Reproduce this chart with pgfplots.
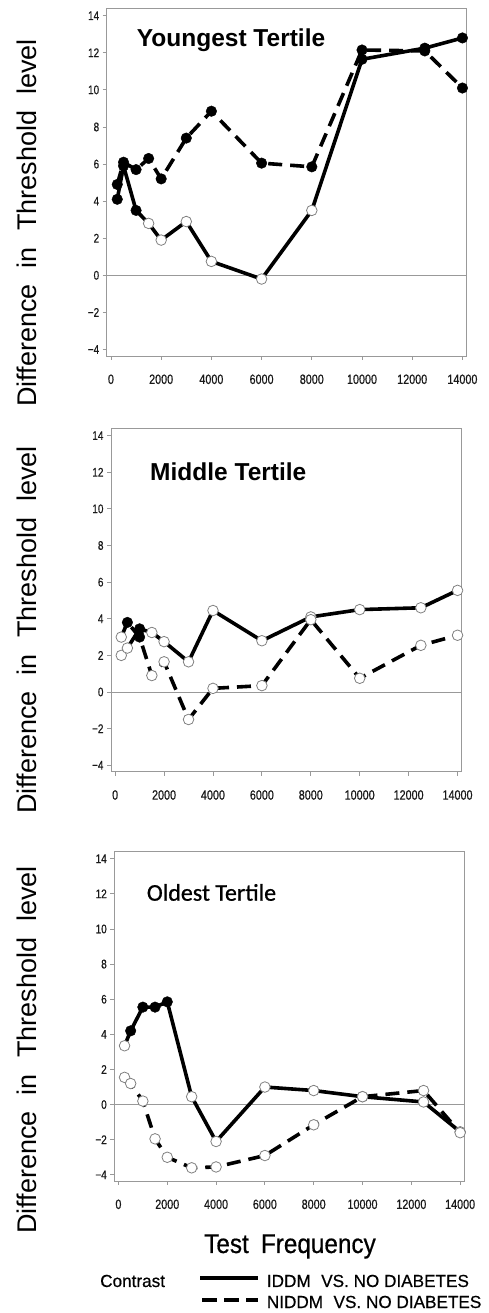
\documentclass[border=0pt]{standalone}
\usepackage{fontspec}
\setmainfont{Liberation Sans}
\newfontfamily\tickfont[FakeStretch=0.8,FakeBold=0.6]{Liberation Sans}
\newfontfamily\oldfont[FakeBold=0.8]{Carlito}
\newfontfamily\labfont[FakeStretch=0.9,FakeBold=0.5]{Liberation Sans}
\newfontfamily\legfont[FakeStretch=0.98,FakeBold=0.5]{Liberation Sans}
\usepackage{pgfplots}
\usepackage{pgfplotstable}
\pgfplotsset{compat=1.18}

% Youngest tertile
\pgfplotstableread{
x y c
250 4.1 f
500 5.9 f
1000 3.5 f
1500 2.8 o
2000 1.9 o
3000 2.9 o
4000 0.75 o
6000 -0.2 o
8000 3.5 o
10000 11.65 f
12500 12.25 f
14000 12.8 f
}\youngS
\pgfplotstableread{
x y c
250 4.9 f
500 6.1 f
1000 5.7 f
1500 6.3 f
2000 5.2 f
3000 7.4 f
4000 8.85 f
6000 6.05 f
8000 5.85 f
10000 12.15 f
12500 12.1 f
14000 10.1 f
}\youngD
% Middle tertile
\pgfplotstableread{
x y c
250 2.0 o
500 2.4 o
1000 3.45 f
1500 3.25 o
2000 2.75 o
3000 1.65 o
4000 4.45 o
6000 2.8 o
8000 4.1 o
10000 4.5 o
12500 4.6 o
14000 5.55 o
}\midS
\pgfplotstableread{
x y c
250 3.0 o
500 3.8 f
1000 3.0 f
1500 0.9 o
2000 1.65 o
3000 -1.5 o
4000 0.2 o
6000 0.35 o
8000 3.95 o
10000 0.75 o
12500 2.55 o
14000 3.1 o
}\midD
% Oldest tertile
\pgfplotstableread{
x y c
250 3.35 o
500 4.2 f
1000 5.55 f
1500 5.55 f
2000 5.85 f
3000 0.45 o
4000 -2.1 o
6000 1.0 o
8000 0.8 o
10000 0.45 o
12500 0.15 o
14000 -1.55 o
}\oldS
\pgfplotstableread{
x y c
250 1.55 o
500 1.2 o
1000 0.2 o
1500 -1.95 o
2000 -3.0 o
3000 -3.6 o
4000 -3.55 o
6000 -2.9 o
8000 -1.15 o
10000 0.45 o
12500 0.8 o
14000 -1.6 o
}\oldD

\pgfplotsset{
  panel/.style={
    scale only axis,
    anchor=north west,
    clip=false,
    xmin=-170, xmax=14170, ymin=-4.35, ymax=14.4,
    scaled x ticks=false,
    xtick={0,2000,...,14000},
    xticklabels={0,2000,4000,6000,8000,10000,12000,14000},
    ytick={-4,-2,...,14},
    yticklabels={−4,−2,0,2,4,6,8,10,12,14},
    xtick pos=bottom, ytick pos=left,
    tick align=outside,
    major tick length=4pt,
    axis line style={draw=gray!80, line width=0.8pt},
    every tick/.style={draw=gray!80, line width=0.8pt},
    x tick label style={font=\tickfont\fontsize{13.5}{13.5}\selectfont, text=black!90, yshift=-11pt},
    y tick label style={font=\tickfont\fontsize{12.5}{12.5}\selectfont, text=black!90},
  },
  linesolid/.style={black, line width=3.6pt, no marks, line join=round},
  linedash/.style={black, line width=3.6pt, no marks, dash pattern=on 14pt off 8pt},
  markset/.style={only marks, scatter, scatter src=explicit symbolic,
    scatter/classes={
      f={mark=*, mark size=5.3pt, draw=black, fill=black},
      o={mark=*, mark size=5.3pt, draw=gray, fill=white, line width=0.8pt}}},
}

\begin{document}
\begin{tikzpicture}[x=1pt,y=1pt]
\useasboundingbox (0,0) rectangle (489,1313);

% ---------- Youngest ----------
\begin{axis}[panel, at={(106.7pt,1304.7pt)}, width=360pt, height=347.7pt]
\draw[gray!80, line width=0.8pt] (axis cs:-170,0) -- (axis cs:14170,0);
\addplot[markset] table[x=x,y=y,meta=c] {\youngS};
\addplot[markset] table[x=x,y=y,meta=c] {\youngD};
\addplot[linesolid] table[x=x,y=y] {\youngS};
\addplot[linedash] table[x=x,y=y] {\youngD};
\end{axis}

% ---------- Middle ----------
\begin{axis}[panel, at={(111pt,884.7pt)}, width=350.7pt, height=343.4pt]
\draw[gray!80, line width=0.8pt] (axis cs:-170,0) -- (axis cs:14170,0);
\addplot[markset] table[x=x,y=y,meta=c] {\midS};
\addplot[markset] table[x=x,y=y,meta=c] {\midD};
\addplot[linesolid] table[x=x,y=y] {\midS};
\addplot[linedash] table[x=x,y=y] {\midD};
\end{axis}

% ---------- Oldest ----------
\begin{axis}[panel, at={(114.3pt,461.3pt)}, width=350pt, height=329.3pt]
\draw[gray!80, line width=0.8pt] (axis cs:-170,0) -- (axis cs:14170,0);
\addplot[markset] table[x=x,y=y,meta=c] {\oldS};
\addplot[markset] table[x=x,y=y,meta=c] {\oldD};
\addplot[linesolid] table[x=x,y=y] {\oldS};
\addplot[linedash] table[x=x,y=y] {\oldD};
\end{axis}

% titles
\node[anchor=base west, inner sep=0pt, font=\bfseries\fontsize{24.5}{24.5}\selectfont] at (136.7,1266.3) {Youngest Tertile};
\node[anchor=base west, inner sep=0pt, font=\bfseries\fontsize{24.5}{24.5}\selectfont] at (150,832) {Middle Tertile};
\node[anchor=base west, inner sep=0pt, font=\oldfont\fontsize{24}{24}\selectfont] at (146.7,412.3) {Oldest Tertile};

% y labels
\foreach \yy in {1090,683,263}{
  \node[rotate=90, font=\fontsize{27}{27}\selectfont] at (27,\yy) {Difference\hspace{0.6em}in\hspace{0.6em}Threshold\hspace{0.6em}level};
}

% x label
\node[anchor=base, font=\labfont\fontsize{27}{27}\selectfont] at (290,60) {Test\hspace{0.45em}Frequency};

% legend
\node[anchor=base west, inner sep=0pt, font=\legfont\fontsize{17.5}{17.5}\selectfont] at (100,26) {Contrast};
\draw[line width=3.6pt] (200,35) -- (258,35);
\draw[line width=3.6pt, dash pattern=on 15pt off 7pt] (202,13) -- (258,13);
\node[anchor=base west, inner sep=0pt, font=\legfont\fontsize{17.5}{17.5}\selectfont] at (266.7,26) {IDDM\hspace{0.6em}VS.\ NO DIABETES};
\node[anchor=base west, inner sep=0pt, font=\legfont\fontsize{17.5}{17.5}\selectfont] at (266.7,5) {NIDDM\hspace{0.6em}VS.\ NO DIABETES};
\end{tikzpicture}
\end{document}
